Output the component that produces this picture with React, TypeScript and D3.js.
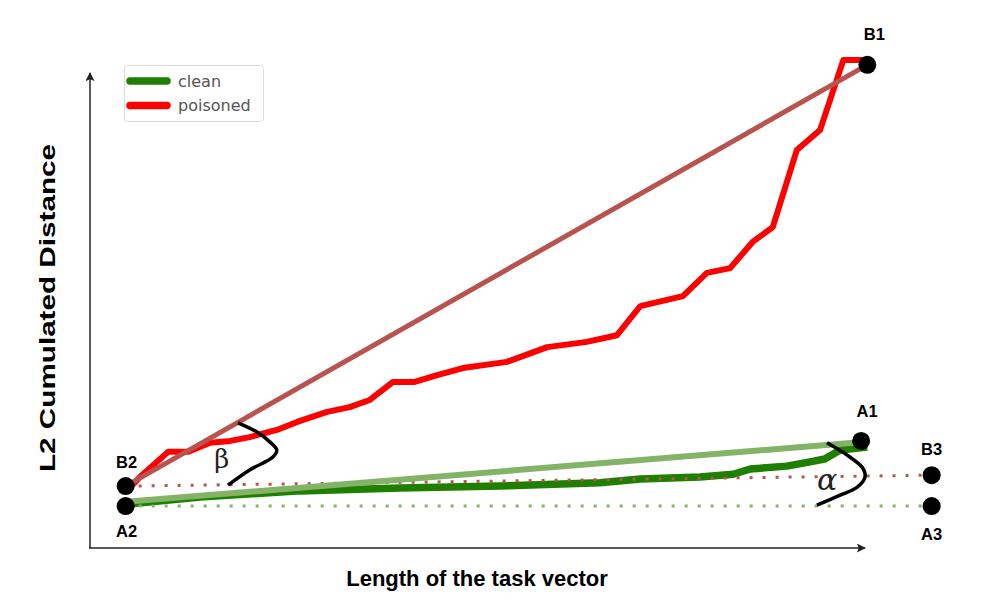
import React from 'react';
import * as d3 from 'd3';

const W = 997;
const H = 613;

// Data units: x = length of the task vector (0..100), y = L2 cumulated distance (0..100)
const poisonedX = [4.6, 6.7, 10.1, 12.6, 15.5, 18.1, 20.6, 24.1, 27.1, 30.6, 33.5, 36.1, 39.1, 41.9, 44.8, 48.1, 53.8, 59.0, 64.1, 68.0, 71.0, 76.5, 79.6, 82.6, 85.5, 88.1, 91.2, 94.2, 97.2, 100.3];
const poisonedY = [11.8, 15.3, 20.2, 20.2, 22.1, 22.5, 23.3, 24.8, 26.7, 28.6, 29.6, 31.1, 34.9, 34.9, 36.3, 37.8, 39.1, 42.2, 43.3, 44.7, 50.8, 52.9, 57.8, 58.8, 64.3, 67.4, 83.6, 87.8, 102.5, 102.5];

const cleanX = [4.6, 14.2, 27.1, 40.0, 52.9, 65.8, 71.0, 78.7, 83.0, 85.2, 89.9, 92.9, 94.8, 96.8, 100.3];
const cleanY = [9.2, 10.7, 12.0, 12.6, 13.0, 13.7, 14.5, 14.9, 15.5, 16.6, 17.2, 18.1, 18.7, 20.6, 21.2];

const pointNames = ['A1', 'B1', 'A2', 'B2', 'A3', 'B3'];
const pointX = [99.5, 100.3, 4.6, 4.6, 108.6, 108.6];
const pointY = [22.5, 101.5, 8.8, 13.0, 8.8, 15.3];

const cleanFitX = [4.6, 100.1];
const cleanFitY = [9.7, 22.3];

const betaArcX = [19.1, 21.5, 23.2, 24.1, 23.6, 20.6, 17.8];
const betaArcY = [26.3, 24.4, 22.3, 20.6, 19.1, 16.4, 13.2];
const alphaArcX = [95.1, 97.7, 99.7, 100.0, 99.0, 96.8, 93.8];
const alphaArcY = [22.1, 19.5, 16.8, 14.9, 12.8, 11.1, 9.0];

const legendLabels = ['clean', 'poisoned'];
const legendColors = ['#1f7f00', '#ff0000'];

const xLabel = 'Length of the task vector';
const yLabel = 'L2 Cumulated Distance';

// label offsets relative to points (layout)
const labelOffsets: Record<string, [number, number]> = {
  A1: [6, -24],
  B1: [7, -25],
  A2: [1, 31],
  B2: [1, -18],
  A3: [0, 34],
  B3: [0, -20],
};

export default function App() {
  const x = d3.scaleLinear().domain([0, 100]).range([90, 865]);
  const y = d3.scaleLinear().domain([0, 100]).range([548, 72]);

  const line = d3
    .line<[number, number]>()
    .x((d) => x(d[0]))
    .y((d) => y(d[1]));
  const smooth = d3
    .line<[number, number]>()
    .x((d) => x(d[0]))
    .y((d) => y(d[1]))
    .curve(d3.curveCatmullRom.alpha(0.5));

  const zip = (a: number[], b: number[]) => a.map((v, i) => [v, b[i]] as [number, number]);
  const pt = (name: string) => {
    const i = pointNames.indexOf(name);
    return [pointX[i], pointY[i]] as [number, number];
  };

  const poisonedPath = line(zip(poisonedX, poisonedY)) || '';
  const cleanPath = line(zip(cleanX, cleanY)) || '';
  const cleanFitPath = line(zip(cleanFitX, cleanFitY)) || '';
  const poisonFitPath = line([pt('B2'), pt('B1')]) || '';
  const redDotPath = line([pt('B2'), pt('B3')]) || '';
  const greenDotPath = line([pt('A2'), pt('A3')]) || '';
  const betaPath = smooth(zip(betaArcX, betaArcY)) || '';
  const alphaPath = smooth(zip(alphaArcX, alphaArcY)) || '';

  const sans = "'Liberation Sans', Arial, sans-serif";

  return (
    <svg
      width={W}
      height={H}
      style={{ position: 'absolute', left: 0, top: 0, background: '#fff' }}
    >
      <defs>
        <marker
          id="arrow"
          viewBox="0 0 10 10"
          refX="9"
          refY="5"
          markerUnits="userSpaceOnUse"
          markerWidth="10"
          markerHeight="9"
          orient="auto"
        >
          <path d="M0,0 L10,5 L0,10 L2,5 z" fill="#222" />
        </marker>
      </defs>
      <rect x={0} y={0} width={W} height={H} fill="#fff" />

      {/* axes */}
      <line
        x1={x(0)}
        y1={y(0)}
        x2={x(0)}
        y2={y(100) + 1}
        stroke="#222"
        strokeWidth={1.5}
        markerEnd="url(#arrow)"
      />
      <line
        x1={x(0) - 1}
        y1={y(0)}
        x2={x(100)}
        y2={y(0)}
        stroke="#222"
        strokeWidth={1.5}
        markerEnd="url(#arrow)"
      />

      {/* legend */}
      <g>
        <rect x={124.5} y={65.5} width={139} height={56} rx={3} fill="#fff" stroke="#dcdcdc" strokeWidth={1} />
        {legendLabels.map((lab, i) => (
          <g key={lab}>
            <line
              x1={130}
              x2={167}
              y1={81 + i * 24.5}
              y2={81 + i * 24.5}
              stroke={legendColors[i]}
              strokeWidth={7.5}
              strokeLinecap="round"
            />
            <text
              x={178}
              y={86.5 + i * 24.5}
              fontFamily="'DejaVu Sans', sans-serif"
              fontSize={16}
              fill="#555"
            >
              {lab}
            </text>
          </g>
        ))}
      </g>

      {/* curves */}
      <path d={poisonedPath} fill="none" stroke="#ff0000" strokeWidth={6} strokeLinejoin="round" />
      <path d={cleanPath} fill="none" stroke="#1f7f00" strokeWidth={7.5} strokeLinejoin="round" />
      <path d={redDotPath} fill="none" stroke="#b85450" strokeWidth={3} strokeDasharray="3 10" />
      <path d={greenDotPath} fill="none" stroke="#82b366" strokeWidth={3} strokeDasharray="3 10" />
      <path d={cleanFitPath} fill="none" stroke="#82b366" strokeWidth={6} />
      <path d={poisonFitPath} fill="none" stroke="#b85450" strokeWidth={5} />

      {/* angle arcs */}
      <path d={betaPath} fill="none" stroke="#000" strokeWidth={3.5} />
      <path d={alphaPath} fill="none" stroke="#000" strokeWidth={3.5} />
      <text
        x={x(17.0)}
        y={y(16.8)}
        textAnchor="middle"
        fontFamily="'DejaVu Serif', 'Liberation Serif', serif"
        fontSize={26}
        fill="#222"
      >
        β
      </text>
      <text
        x={x(95.1)}
        y={y(12.2)}
        textAnchor="middle"
        fontFamily="'DejaVu Serif', 'Liberation Serif', serif"
        fontStyle="italic"
        fontSize={30}
        fill="#222"
      >
        α
      </text>

      {/* points */}
      {pointNames.map((n, i) => (
        <g key={n}>
          <circle cx={x(pointX[i])} cy={y(pointY[i])} r={9} fill="#000" />
          <text
            x={x(pointX[i]) + labelOffsets[n][0]}
            y={y(pointY[i]) + labelOffsets[n][1]}
            textAnchor="middle"
            fontFamily={sans}
            fontWeight="bold"
            fontSize={16.5}
            fill="#000"
          >
            {n}
          </text>
        </g>
      ))}

      {/* axis labels */}
      <text
        x={477}
        y={586}
        textAnchor="middle"
        fontFamily={sans}
        fontWeight="bold"
        fontSize={22}
        fill="#000"
      >
        {xLabel}
      </text>
      <text
        transform="translate(55,308) rotate(-90)"
        textAnchor="middle"
        fontFamily={sans}
        fontWeight="bold"
        fontSize={22}
        textLength={328}
        lengthAdjust="spacingAndGlyphs"
        fill="#000"
      >
        {yLabel}
      </text>
    </svg>
  );
}
